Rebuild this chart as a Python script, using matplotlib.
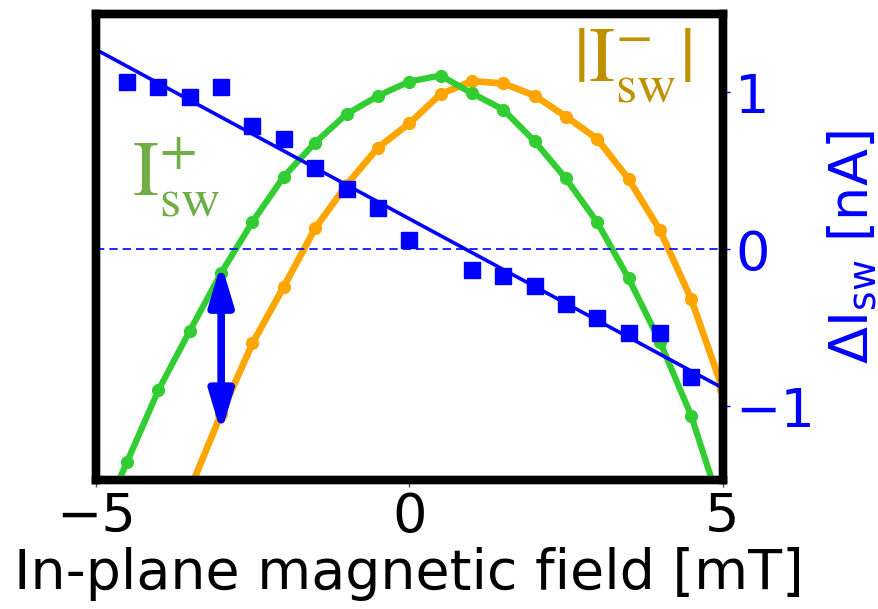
import numpy as np
import matplotlib
matplotlib.use("Agg")
import matplotlib.pyplot as plt

# ---- data ----
field_plus = [-5, -4.5, -4, -3.5, -3, -2.5, -2, -1.5, -1, -0.5, 0, 0.5, 1, 1.5, 2, 2.5, 3, 3.5, 4, 4.5, 5]
isw_plus = [-0.112, 0.039, 0.193, 0.320, 0.444, 0.554, 0.651, 0.724, 0.785, 0.824, 0.855,
            0.868, 0.830, 0.795, 0.727, 0.647, 0.553, 0.433, 0.297, 0.138, -0.071]

field_minus = [-3.5, -3, -2.5, -2, -1.5, -1, -0.5, 0, 0.5, 1, 1.5, 2, 2.5, 3, 3.5, 4, 4.5, 5]
isw_minus = [-0.021, 0.142, 0.293, 0.415, 0.540, 0.633, 0.713, 0.765, 0.828, 0.856,
             0.851, 0.825, 0.780, 0.732, 0.646, 0.536, 0.388, 0.196]

field_delta = [-4.5, -4, -3.5, -3, -2.5, -2, -1.5, -1, -0.5, 0, 1, 1.5, 2, 2.5, 3, 3.5, 4, 4.5]
delta_isw = [1.068, 1.036, 0.968, 1.036, 0.785, 0.702, 0.519, 0.383, 0.266, 0.057,
             -0.134, -0.170, -0.234, -0.347, -0.436, -0.532, -0.532, -0.815]

arrow_x = -3
arrow_span = [-0.09, -1.17]

xticks = [-5, 0, 5]
yticks_right = [-1, 0, 1]

# ---- figure ----
fig = plt.figure(figsize=(8.79, 6.09), dpi=100)
ax = fig.add_axes([0.109, 0.212, 0.713, 0.765])

ax.plot(field_minus, isw_minus, '-o', color='orange', lw=4.8, ms=8.5, zorder=2)
ax.plot(field_plus, isw_plus, '-o', color='#32cd32', lw=4.5, ms=8.5, zorder=3)
ax.set_xlim(-5, 5)
ax.set_ylim(0, 1)
ax.set_yticks([])
ax.set_xticks(xticks)
ax.set_xticklabels([str(t).replace('-', '\u2212') for t in xticks], fontsize=39)
ax.tick_params(axis='x', length=5, width=1, color='#555555', pad=3)
ax.set_xlabel('In-plane magnetic field [mT]', fontsize=40, labelpad=3)
for s in ax.spines.values():
    s.set_linewidth(6)
    s.set_color('black')

ax2 = ax.twinx()
ax2.set_ylim(-1.47, 1.50)
ax2.axhline(0, color='blue', lw=1.2, ls=(0, (5, 3)))
coef = np.polyfit(field_delta, delta_isw, 1)
xf = np.array([-5.2, 5.2])
ax2.plot(xf, np.polyval(coef, xf), color='blue', lw=2.6)
ax2.plot(field_delta, delta_isw, 's', color='blue', ms=11.5, mec='blue')
ax2.annotate('', xy=(arrow_x, arrow_span[0]), xytext=(arrow_x, arrow_span[1]),
             arrowprops=dict(arrowstyle='<|-|>,head_length=1.2,head_width=0.36',
                             mutation_scale=20, lw=5.5, color='blue',
                             shrinkA=0, shrinkB=0))
ax2.set_yticks(yticks_right)
ax2.set_yticklabels([str(t).replace('-', '\u2212') for t in yticks_right], fontsize=39, color='blue')
ax2.tick_params(axis='y', colors='blue', length=5, width=1, pad=4)
ax2.set_ylabel(r'$\Delta \mathrm{I}_{\mathrm{sw}}$ [nA]', fontsize=39, color='blue', labelpad=8)
for s in ax2.spines.values():
    s.set_linewidth(6)
    s.set_color('black')

ax.text(0.058, 0.61, r'$\mathrm{I}_{\mathrm{sw}}^{+}$', transform=ax.transAxes,
        fontsize=56, color='#70ad47', math_fontfamily='stix', va='baseline')
ax.text(0.762, 0.855, r'$|\mathrm{I}_{\mathrm{sw}}^{-}|$', transform=ax.transAxes,
        fontsize=56, color='#bf9000', math_fontfamily='stix', va='baseline')

fig.savefig('out.png', dpi=100)
